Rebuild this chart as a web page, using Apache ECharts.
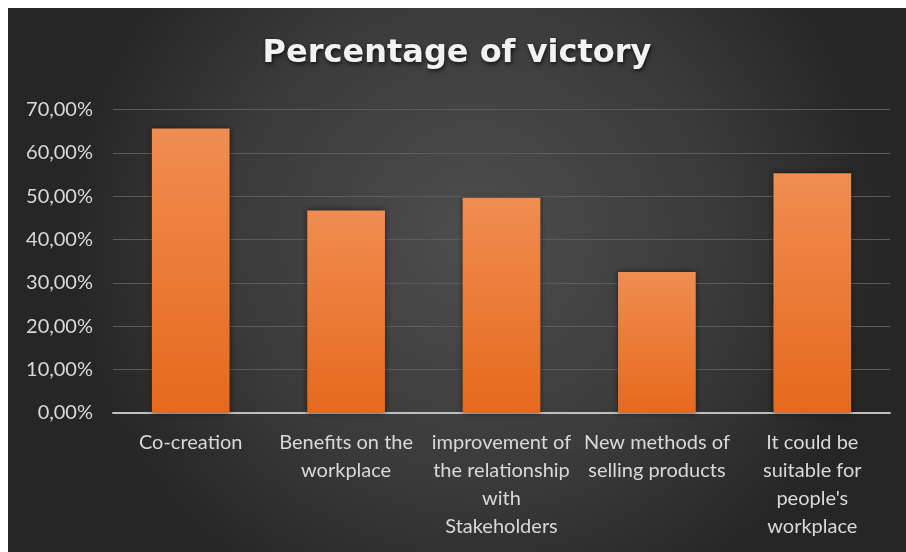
<!DOCTYPE html>
<html>
<head>
<meta charset="utf-8">
<script src="https://cdn.jsdelivr.net/npm/echarts@6/dist/echarts.min.js"></script>
<style>
html,body{margin:0;padding:0;background:#ffffff;width:906px;height:552px;overflow:hidden;}
#chart{position:absolute;left:8px;top:8px;width:898px;height:544px;}
</style>
</head>
<body>
<div id="chart"></div>
<script>
var titleText = "Percentage of victory";
var categories = [
  "Co-creation",
  "Benefits on the\nworkplace",
  "improvement of\nthe relationship\nwith\nStakeholders",
  "New methods of\nselling products",
  "It could be\nsuitable for\npeople's\nworkplace"
];
var victoryPercent = [65.6, 46.7, 49.6, 32.5, 55.3];
var yMin = 0, yMax = 70, yStep = 10;

var chart = echarts.init(document.getElementById('chart'), null, {renderer: 'canvas'});
var font = "Lato";
chart.setOption({
  animation: false,
  backgroundColor: {
    type: 'radial', x: 0.52, y: 0.42, r: 0.75,
    colorStops: [
      {offset: 0, color: '#4e4e4e'},
      {offset: 0.6, color: '#3a3a3a'},
      {offset: 1, color: '#262626'}
    ]
  },
  title: {
    text: titleText,
    left: 'center',
    top: 25,
    textStyle: {
      color: '#f2f2f2',
      fontFamily: 'DejaVu Sans',
      fontWeight: 'bold',
      fontSize: 32,
      textShadowColor: 'rgba(0,0,0,0.7)',
      textShadowBlur: 4,
      textShadowOffsetX: 1,
      textShadowOffsetY: 2
    }
  },
  grid: {left: 105, right: 16, top: 101.5, bottom: 139.3, containLabel: false},
  xAxis: {
    type: 'category',
    data: categories,
    axisLine: {lineStyle: {color: '#bfbfbf', width: 2}},
    axisTick: {show: false},
    axisLabel: {
      interval: 0,
      color: '#d9d9d9',
      fontFamily: font,
      fontSize: 20,
      lineHeight: 28,
      margin: 16
    }
  },
  yAxis: {
    type: 'value',
    min: yMin, max: yMax, interval: yStep,
    axisLine: {show: false},
    axisTick: {show: false},
    splitLine: {lineStyle: {color: '#5c5c5c', width: 1}},
    axisLabel: {
      color: '#d9d9d9',
      fontFamily: font,
      fontSize: 20,
      margin: 20,
      formatter: function (v) { return v.toFixed(2).replace('.', ',') + '%'; }
    }
  },
  series: [{
    type: 'bar',
    data: victoryPercent,
    barCategoryGap: '50%',
    itemStyle: {
      color: {
        type: 'linear', x: 0, y: 0, x2: 0, y2: 1,
        colorStops: [
          {offset: 0, color: '#f08d51'},
          {offset: 1, color: '#e6691d'}
        ]
      },
      shadowColor: 'rgba(0,0,0,0.55)',
      shadowBlur: 6
    }
  }]
});
</script>
</body>
</html>
